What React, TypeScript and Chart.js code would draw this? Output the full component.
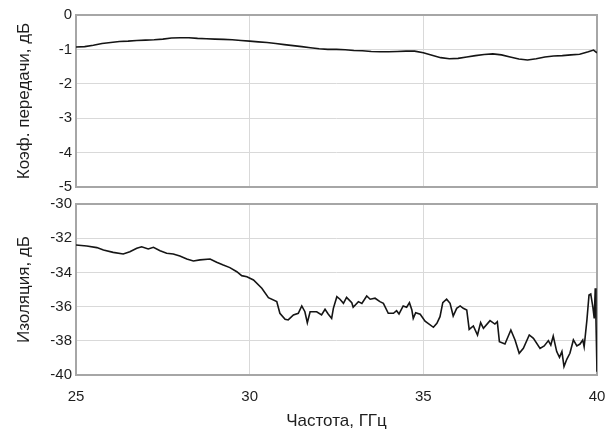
import React, { useEffect, useRef } from 'react';
import { Chart, registerables } from 'chart.js';
Chart.register(...registerables);

// ---- data ----
const gainFreq = [25.0, 25.25, 25.5, 25.75, 26.0, 26.25, 26.5, 26.75, 27.0, 27.25, 27.5, 27.75, 28.0, 28.25, 28.5, 28.75, 29.0, 29.25, 29.5, 29.75, 30.0, 30.25, 30.5, 30.75, 31.0, 31.25, 31.5, 31.75, 32.0, 32.25, 32.5, 32.75, 33.0, 33.25, 33.5, 33.75, 34.0, 34.25, 34.5, 34.75, 35.0, 35.25, 35.5, 35.75, 36.0, 36.25, 36.5, 36.75, 37.0, 37.25, 37.5, 37.75, 38.0, 38.25, 38.5, 38.75, 39.0, 39.25, 39.5, 39.75, 39.9, 40.0];
const gainDb = [-0.93, -0.92, -0.88, -0.83, -0.8, -0.77, -0.76, -0.74, -0.73, -0.72, -0.7, -0.67, -0.66, -0.66, -0.68, -0.69, -0.7, -0.71, -0.72, -0.74, -0.76, -0.78, -0.8, -0.83, -0.86, -0.89, -0.92, -0.95, -0.98, -1.0, -1.0, -1.01, -1.03, -1.04, -1.06, -1.07, -1.07, -1.06, -1.05, -1.05, -1.1, -1.17, -1.24, -1.27, -1.26, -1.22, -1.18, -1.15, -1.13, -1.16, -1.22, -1.28, -1.31, -1.27, -1.22, -1.19, -1.18, -1.16, -1.14, -1.07, -1.02, -1.1];

const isoFreq = [25.0, 25.31, 25.6, 25.79, 26.07, 26.36, 26.55, 26.75, 26.89, 27.08, 27.23, 27.42, 27.61, 27.8, 27.99, 28.19, 28.38, 28.57, 28.86, 29.05, 29.24, 29.43, 29.63, 29.77, 29.92, 30.11, 30.35, 30.54, 30.78, 30.87, 31.02, 31.11, 31.26, 31.4, 31.5, 31.59, 31.66, 31.74, 31.93, 32.07, 32.17, 32.26, 32.36, 32.41, 32.51, 32.6, 32.7, 32.79, 32.94, 32.98, 33.13, 33.23, 33.37, 33.47, 33.61, 33.75, 33.85, 33.99, 34.14, 34.23, 34.3, 34.42, 34.52, 34.6, 34.67, 34.71, 34.78, 34.91, 35.05, 35.29, 35.39, 35.48, 35.56, 35.67, 35.77, 35.86, 35.96, 36.06, 36.15, 36.25, 36.32, 36.44, 36.56, 36.65, 36.73, 36.92, 37.06, 37.13, 37.19, 37.35, 37.52, 37.64, 37.76, 37.88, 38.05, 38.17, 38.36, 38.48, 38.6, 38.67, 38.74, 38.84, 38.92, 38.99, 39.05, 39.13, 39.22, 39.32, 39.42, 39.51, 39.59, 39.63, 39.71, 39.77, 39.82, 39.88, 39.92, 39.95, 39.97, 40.0];
const isoDb = [-32.4, -32.46, -32.55, -32.69, -32.83, -32.92, -32.79, -32.59, -32.5, -32.63, -32.53, -32.73, -32.88, -32.92, -33.04, -33.22, -33.33, -33.27, -33.22, -33.41, -33.57, -33.72, -33.96, -34.19, -34.25, -34.44, -34.93, -35.48, -35.71, -36.39, -36.74, -36.78, -36.49, -36.39, -35.96, -36.3, -36.94, -36.3, -36.3, -36.49, -36.16, -36.43, -36.69, -36.1, -35.42, -35.57, -35.81, -35.46, -35.77, -36.04, -35.71, -35.81, -35.38, -35.57, -35.51, -35.71, -35.81, -36.39, -36.39, -36.24, -36.43, -35.96, -36.04, -35.77, -36.2, -36.69, -36.36, -36.45, -36.85, -37.21, -36.98, -36.59, -35.77, -35.57, -35.81, -36.55, -36.1, -35.96, -36.1, -36.2, -37.33, -37.13, -37.66, -36.94, -37.27, -36.82, -37.02, -36.88, -38.05, -38.19, -37.37, -37.95, -38.73, -38.44, -37.66, -37.86, -38.44, -38.3, -37.99, -38.25, -37.72, -38.63, -38.97, -38.63, -39.51, -39.08, -38.73, -37.95, -38.3, -38.19, -37.95, -38.35, -36.78, -35.32, -35.26, -36.01, -36.69, -34.93, -36.78, -39.81];

const freqTicks = [25, 30, 35, 40];
const gainTicks = [0, -1, -2, -3, -4, -5];
const isoTicks = [-30, -32, -34, -36, -38, -40];

const xTitle = 'Частота, ГГц';
const gainTitle = 'Коэф. передачи, дБ';
const isoTitle = 'Изоляция, дБ';

// ---- styles ----
const FONT = "'Liberation Sans', Arial, sans-serif";
const TEXT = '#1e1e1e';
const GRID = '#d9d9d9';
const FRAME = '#a6a6a6';
const LINE = '#151515';

const framePlugin = {
  id: 'frame',
  beforeDatasetsDraw(chart: any) {
    const { ctx, chartArea: a } = chart;
    ctx.save();
    ctx.strokeStyle = FRAME;
    ctx.lineWidth = 2;
    ctx.strokeRect(a.left, a.top, a.right - a.left, a.bottom - a.top);
    ctx.restore();
  },
};

function makeTicks(values: number[]) {
  return (s: any) => {
    s.ticks = values.map((v) => ({ value: v }));
  };
}

function buildConfig(opts: {
  xs: number[];
  ys: number[];
  yMin: number;
  yMax: number;
  yTicks: number[];
  yTitle: string;
  showX: boolean;
  padding: any;
  xHeight: number;
}) {
  return {
    type: 'line' as const,
    data: {
      datasets: [
        {
          data: opts.xs.map((x, i) => ({ x, y: opts.ys[i] })),
          borderColor: LINE,
          borderWidth: 1.6,
          pointRadius: 0,
          tension: 0,
          fill: false,
        },
      ],
    },
    options: {
      responsive: false,
      animation: false,
      devicePixelRatio: 1,
      layout: { padding: opts.padding },
      plugins: { legend: { display: false }, tooltip: { enabled: false } },
      scales: {
        x: {
          type: 'linear',
          min: 25,
          max: 40,
          afterBuildTicks: makeTicks(freqTicks),
          afterFit: (s: any) => {
            s.height = opts.xHeight;
          },
          grid: {
            color: GRID,
            drawTicks: opts.showX,
            tickLength: 13,
            tickColor: 'rgba(0,0,0,0)',
            lineWidth: 1,
          },
          border: { display: false },
          ticks: {
            display: opts.showX,
            padding: 0,
            color: TEXT,
            font: { family: FONT, size: 15 },
            maxRotation: 0,
          },
          title: {
            display: opts.showX,
            text: xTitle,
            color: TEXT,
            font: { family: FONT, size: 17 },
            padding: { top: 0, bottom: 0 },
          },
        },
        y: {
          type: 'linear',
          min: opts.yMin,
          max: opts.yMax,
          afterBuildTicks: makeTicks(opts.yTicks),
          afterFit: (s: any) => {
            s.width = 76;
          },
          grid: { color: GRID, drawTicks: false, lineWidth: 1 },
          border: { display: false },
          ticks: {
            padding: 4,
            color: TEXT,
            font: { family: FONT, size: 15 },
          },
          title: {
            display: true,
            text: opts.yTitle,
            color: TEXT,
            font: { family: FONT, size: 17 },
            padding: { top: 14, bottom: 0 },
          },
        },
      },
    },
    plugins: [framePlugin],
  };
}

export default function App() {
  const topRef = useRef<HTMLCanvasElement>(null);
  const botRef = useRef<HTMLCanvasElement>(null);

  useEffect(() => {
    const c1 = new Chart(
      topRef.current as HTMLCanvasElement,
      buildConfig({
        xs: gainFreq,
        ys: gainDb,
        yMin: -5,
        yMax: 0,
        yTicks: gainTicks,
        yTitle: gainTitle,
        showX: false,
        padding: { top: 15, right: 9, bottom: 12, left: 0 },
        xHeight: 0,
      }) as any
    );
    const c2 = new Chart(
      botRef.current as HTMLCanvasElement,
      buildConfig({
        xs: isoFreq,
        ys: isoDb,
        yMin: -40,
        yMax: -30,
        yTicks: isoTicks,
        yTitle: isoTitle,
        showX: true,
        padding: { top: 14, right: 9, bottom: 0, left: 0 },
        xHeight: 57,
      }) as any
    );
    return () => {
      c1.destroy();
      c2.destroy();
    };
  }, []);

  return (
    <div style={{ position: 'absolute', left: 0, top: 0, width: 606, height: 432, background: '#fff' }}>
      <canvas ref={topRef} width={606} height={200} style={{ position: 'absolute', left: 0, top: 0 }} />
      <canvas ref={botRef} width={606} height={242} style={{ position: 'absolute', left: 0, top: 190 }} />
    </div>
  );
}
